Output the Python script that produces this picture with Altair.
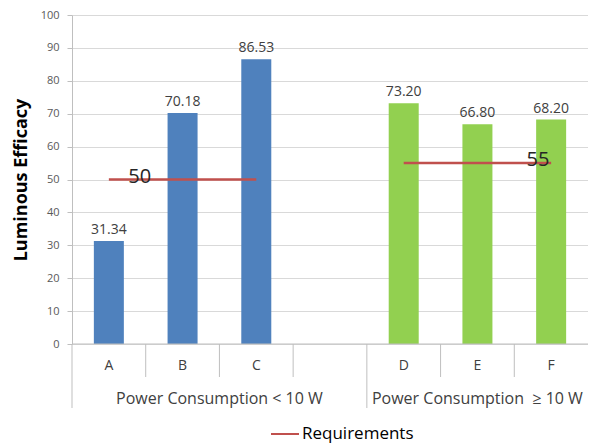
import altair as alt
import pandas as pd

# ---- data ----
slots = ["A", "B", "C", " ", "D", "E", "F"]
categories = ["A", "B", "C", "D", "E", "F"]
values = [31.34, 70.18, 86.53, 73.20, 66.80, 68.20]
bar_colors = ["#4F81BD", "#4F81BD", "#4F81BD", "#92D050", "#92D050", "#92D050"]
req_start = ["A", "D"]
req_end = ["C", "F"]
req_values = [50, 55]
req_text = ["50", "55"]
group_labels = ["Power Consumption < 10 W", "Power Consumption \u00a0\u2265 10 W"]
short_dividers = ["B", "C", " ", "E", "F"]
long_dividers = ["A", "D"]
y_ticks = [0, 10, 20, 30, 40, 50, 60, 70, 80, 90, 100]

FONT = "Open Sans"
TXT = "#404040"

bars_df = pd.DataFrame({"cat": categories, "val": values, "color": bar_colors,
                        "lab": [f"{v:.2f}" for v in values]})
req_df = pd.DataFrame({"s": req_start, "e": req_end, "val": req_values,
                       "txt": req_text, "series": ["Requirements"] * 2})

xscale = alt.Scale(domain=slots, paddingInner=0, paddingOuter=0)
yscale = alt.Scale(domain=[0, 100], nice=False)
yaxis = alt.Axis(title="Luminous Efficacy", values=y_ticks,
                 grid=True, gridColor="#d9d9d9", domainColor="#bfbfbf",
                 tickColor="#bfbfbf", tickSize=5, labelPadding=8,
                 labelFont=FONT, labelFontSize=11, labelColor="#595959",
                 titleFont=FONT, titleFontSize=18, titleFontWeight="bold",
                 titleColor="#000000", titlePadding=10)


def Y(field):
    return alt.Y(field, scale=yscale, axis=yaxis)


base = alt.Chart(bars_df)

bars = base.mark_bar(size=30).encode(
    x=alt.X("cat:N", scale=xscale, axis=None, sort=slots),
    y=Y("val:Q"),
    color=alt.Color("color:N", scale=None),
)

bar_labels = base.mark_text(dy=-11, font=FONT, fontSize=14, color=TXT).encode(
    x=alt.X("cat:N", scale=xscale, sort=slots, axis=None),
    y=Y("val:Q"),
    text="lab:N",
)

baseline = alt.Chart(pd.DataFrame({"v": [0]})).mark_rule(color="#bfbfbf", strokeWidth=1).encode(
    y=Y("v:Q"),
)

req_lines = alt.Chart(req_df).mark_rule(strokeWidth=2.5).encode(
    x=alt.X("s:N", scale=xscale, sort=slots, axis=None),
    x2="e:N",
    y=Y("val:Q"),
    color=alt.Color("series:N", scale=alt.Scale(domain=["Requirements"], range=["#C0504D"]),
                    legend=alt.Legend(title=None, orient="none", legendX=198, legendY=404,
                                      symbolType="stroke", symbolSize=784,
                                      symbolStrokeWidth=2, labelFont=FONT,
                                      labelFontSize=17, labelColor="#000000",
                                      labelOffset=2)),
)

req_lab1 = alt.Chart(req_df.iloc[[0]]).mark_text(font=FONT, fontSize=20, color="#262626",
                                                 dx=-6, dy=-3).encode(
    x=alt.X("s:N", scale=xscale, sort=slots, bandPosition=1, axis=None),
    y=Y("val:Q"),
    text="txt:N",
)
req_lab2 = alt.Chart(req_df.iloc[[1]]).mark_text(font=FONT, fontSize=20, color="#262626",
                                                 dx=-50, dy=-3).encode(
    x=alt.X("e:N", scale=xscale, sort=slots, bandPosition=1, axis=None),
    y=Y("val:Q"),
    text="txt:N",
)

cat_labels = alt.Chart(bars_df).mark_text(font=FONT, fontSize=14, color=TXT, baseline="middle").encode(
    x=alt.X("cat:N", scale=xscale, sort=slots, axis=None),
    y=alt.value(351),
    text="cat:N",
)

short_div = alt.Chart(pd.DataFrame({"cat": short_dividers})).mark_rule(color="#bfbfbf").encode(
    x=alt.X("cat:N", scale=xscale, sort=slots, bandPosition=0, axis=None),
    y=alt.value(329), y2=alt.value(362),
)
long_div = alt.Chart(pd.DataFrame({"cat": long_dividers})).mark_rule(color="#bfbfbf").encode(
    x=alt.X("cat:N", scale=xscale, sort=slots, bandPosition=0, axis=None),
    y=alt.value(329), y2=alt.value(393),
)

grp1 = alt.Chart(pd.DataFrame({"cat": ["C"], "t": [group_labels[0]]})).mark_text(
    font=FONT, fontSize=16, color=TXT, baseline="middle").encode(
    x=alt.X("cat:N", scale=xscale, sort=slots, bandPosition=0, axis=None),
    y=alt.value(384), text="t:N")
grp2 = alt.Chart(pd.DataFrame({"cat": ["E"], "t": [group_labels[1]]})).mark_text(
    font=FONT, fontSize=16, color=TXT, baseline="middle").encode(
    x=alt.X("cat:N", scale=xscale, sort=slots, bandPosition=0.5, axis=None),
    y=alt.value(384), text="t:N")

chart = alt.layer(
    bars, baseline, bar_labels, req_lines, req_lab1, req_lab2,
    cat_labels, short_div, long_div, grp1, grp2
).properties(
    width=516, height=329,
    padding={"left": 64, "top": 7, "right": 0, "bottom": 100},
    autosize=alt.AutoSizeParams(type="none"),
).configure_view(stroke=None)

chart.save("out.html", embed_options={"renderer": "svg", "actions": False})
